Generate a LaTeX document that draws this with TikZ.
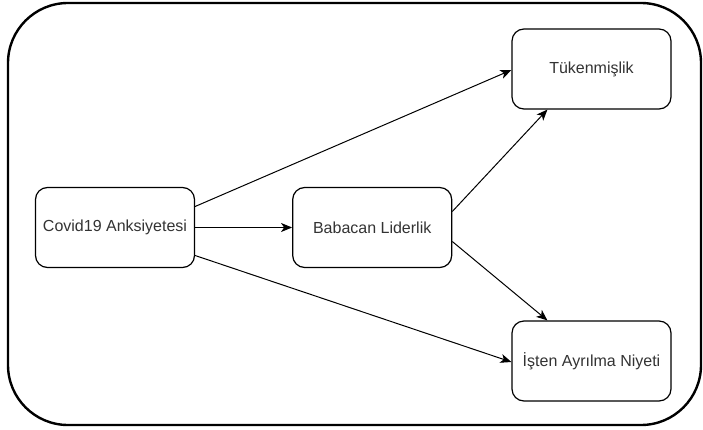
\documentclass[tikz,border=0pt]{standalone}
\usepackage{fontspec}
\setmainfont{Liberation Sans}
\usepackage{xcolor}
\usetikzlibrary{arrows.meta,positioning,calc}
\definecolor{ink}{HTML}{333333}

\begin{document}
\begin{tikzpicture}[
  x=1pt,y=1pt,
  node distance=97pt,
  box/.style={draw=black,line width=1.2pt,rounded corners=12pt,fill=white,minimum height=80pt,minimum width=159pt,align=center,text=ink,font=\fontsize{16}{19}\selectfont},
  frame/.style={draw=black,line width=2.4pt,rounded corners=60pt},
  arr/.style={-{Stealth[length=11pt,width=9pt,inset=3pt]},line width=1pt,draw=black}
]
\useasboundingbox (0,0) rectangle (703,429);
\draw[frame] (8,4) rectangle (701,426);
\node[box] (covid) at (115,201.5) {Covid19 Anksiyetesi};
\node[box,right=of covid] (baba) {Babacan Liderlik};
\node[box] (tuk) at (591.5,360) {Tükenmişlik};
\node[box] (isten) at (591.5,68) {İşten Ayrılma Niyeti};
\draw[arr] (covid)--(baba);
\draw[arr] ([yshift=21pt]covid.east)--([yshift=-1pt]tuk.west);
\draw[arr] ([yshift=-28pt]covid.east)--([yshift=-1pt]isten.west);
\draw[arr] ([yshift=16pt]baba.east)--([xshift=36pt]tuk.south west);
\draw[arr] ([yshift=-14pt]baba.east)--([xshift=36pt]isten.north west);
\end{tikzpicture}
\end{document}
